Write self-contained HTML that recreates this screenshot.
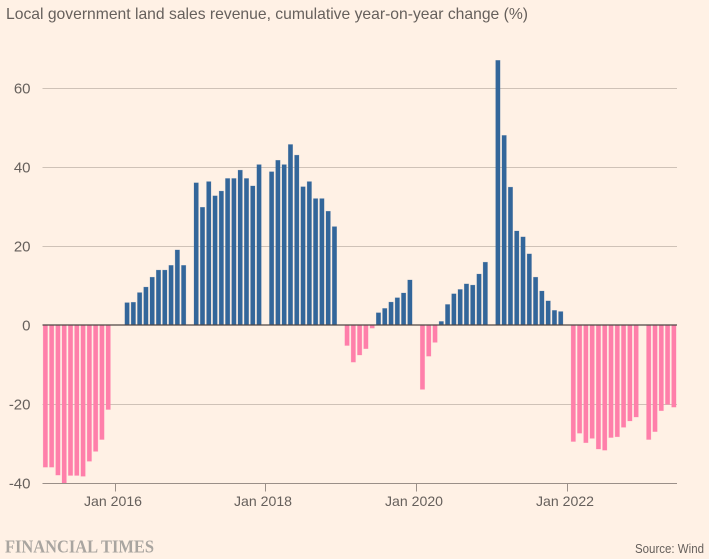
<!DOCTYPE html>
<html>
<head>
<meta charset="utf-8">
<style>
html,body{margin:0;padding:0;background:#fff1e5;}
svg{display:block;}
text{font-family:"Liberation Sans",sans-serif;}
</style>
</head>
<body>
<svg id="chart" width="709" height="559" viewBox="0 0 709 559" xmlns="http://www.w3.org/2000/svg">
<rect x="0" y="0" width="709" height="559" fill="#fff1e5"/>
<text x="6" y="19" font-size="16" fill="#66605c" textLength="522" lengthAdjust="spacingAndGlyphs">Local government land sales revenue, cumulative year-on-year change (%)</text>
<g id="grid"></g>
<g id="bars"></g>
<g id="axes"></g>
<text x="5" y="552.5" font-size="17.5" font-weight="700" fill="#a9a5a0" textLength="149" lengthAdjust="spacingAndGlyphs" style="font-family:'Liberation Serif',serif">FINANCIAL TIMES</text>
<text x="704" y="553" font-size="12.5" fill="#66605c" text-anchor="end" textLength="69" lengthAdjust="spacingAndGlyphs">Source: Wind</text>
</svg>
<script>
const months = [
"2015-02","2015-03","2015-04","2015-05","2015-06","2015-07","2015-08","2015-09","2015-10","2015-11","2015-12",
"2016-03","2016-04","2016-05","2016-06","2016-07","2016-08","2016-09","2016-10","2016-11","2016-12",
"2017-02","2017-03","2017-04","2017-05","2017-06","2017-07","2017-08","2017-09","2017-10","2017-11","2017-12",
"2018-02","2018-03","2018-04","2018-05","2018-06","2018-07","2018-08","2018-09","2018-10","2018-11","2018-12",
"2019-02","2019-03","2019-04","2019-05","2019-06","2019-07","2019-08","2019-09","2019-10","2019-11","2019-12",
"2020-02","2020-03","2020-04","2020-05","2020-06","2020-07","2020-08","2020-09","2020-10","2020-11","2020-12",
"2021-02","2021-03","2021-04","2021-05","2021-06","2021-07","2021-08","2021-09","2021-10","2021-11","2021-12",
"2022-02","2022-03","2022-04","2022-05","2022-06","2022-07","2022-08","2022-09","2022-10","2022-11","2022-12",
"2023-02","2023-03","2023-04","2023-05","2023-06"
];
const values = [
-36,-36,-38,-40,-38.1,-38.1,-38.3,-34.5,-32,-29,-21.4,
5.65,5.75,8.2,9.6,12.1,13.9,13.9,15.1,19,15.1,
36,29.8,36.3,32.7,33.9,37.1,37.1,39.2,37.1,35.2,40.6,
38.8,41.7,40.6,45.7,43,35,36.3,32,32,28.8,24.9,
-5.2,-9.4,-7.6,-6,-0.8,3.1,4.2,5.8,6.9,8.1,11.4,
-16.3,-7.9,-4.4,0.9,5.2,7.9,9,10.4,10.1,12.9,15.9,
67,48,34.9,23.8,22.3,18,12.1,8.6,6.1,3.7,3.4,
-29.5,-27.4,-29.8,-28.7,-31.4,-31.7,-28.5,-28.3,-25.9,-24.3,-23.3,
-29,-27,-21.7,-20.1,-20.8
];
const yTicks = [60, 40, 20, 0, -20, -40];
const xTickMonths = ["2016-01", "2018-01", "2020-01", "2022-01"];
const xTickLabels = ["Jan 2016", "Jan 2018", "Jan 2020", "Jan 2022"];

const NS = "http://www.w3.org/2000/svg";
const PLOT_LEFT = 42.5;
const PLOT_RIGHT = 677;
const BAR_WIDTH = 4.4;
function yScale(v) { return 325 - v * 3.95; }
function monthIndex(m) {
  const p = m.split("-");
  return (Number(p[0]) - 2016) * 12 + (Number(p[1]) - 1);
}
function xScale(m) { return 114.5 + monthIndex(m) * 6.285; }
function make(tag, attrs, parent) {
  const el = document.createElementNS(NS, tag);
  for (const k in attrs) el.setAttribute(k, attrs[k]);
  parent.appendChild(el);
  return el;
}
const gridG = document.getElementById("grid");
const barsG = document.getElementById("bars");
const axesG = document.getElementById("axes");

yTicks.forEach(function (t) {
  const y = Math.floor(yScale(t)) + 0.5;
  if (t !== 0 && t !== -40) {
    const line = make("line", {x1: PLOT_LEFT, x2: PLOT_RIGHT, y1: y, y2: y, stroke: "#cfc2b7", "stroke-width": 1}, gridG);
    
    
  }
  const label = make("text", {x: 30.5, y: yScale(t) + 5.5, "font-size": 15, fill: "#66605c", "text-anchor": "end"}, axesG);
  label.textContent = String(t);
  
  
});

months.forEach(function (m, i) {
  const v = values[i];
  const color = v >= 0 ? "#33669a" : "#ff7faa";
  const x = xScale(m) - BAR_WIDTH / 2;
  const y0 = yScale(0);
  const y1 = yScale(v);
  const bar = make("rect", {
    x: x,
    y: Math.min(y0, y1),
    width: BAR_WIDTH,
    height: Math.abs(y1 - y0),
    fill: color,
    stroke: color,
    "stroke-opacity": 0.35,
    "stroke-width": 0.6
  }, barsG);
  
  
});

const zeroLine = make("line", {x1: PLOT_LEFT, x2: PLOT_RIGHT, y1: 325, y2: 325, stroke: "#4f4744", "stroke-width": 1.2}, axesG);



const xAxis = make("line", {x1: PLOT_LEFT, x2: PLOT_RIGHT, y1: 483.5, y2: 483.5, stroke: "#9a8f88", "stroke-width": 1}, axesG);



xTickMonths.forEach(function (m, i) {
  const x = Math.round(xScale(m)) + 0.5;
  const tick = make("line", {x1: x, x2: x, y1: 483.5, y2: 491.5, stroke: "#9a8f88", "stroke-width": 1}, axesG);
  
  
  const label = make("text", {x: x - 2.5, y: 506, "font-size": 14, fill: "#66605c", "text-anchor": "middle", textLength: 58, lengthAdjust: "spacingAndGlyphs"}, axesG);
  label.textContent = xTickLabels[i];
  
  
});
</script>
</body>
</html>
